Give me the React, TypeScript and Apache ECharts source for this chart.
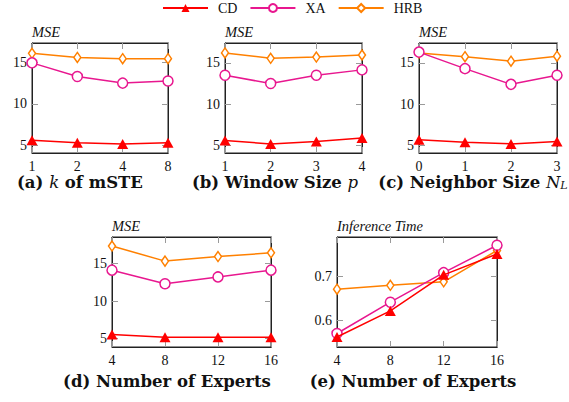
import React, { useEffect, useRef } from "react";
import * as echarts from "echarts";

const xA = ["1", "2", "4", "8"];
const xB = ["1", "2", "3", "4"];
const xC = ["0", "1", "2", "3"];
const xD = ["4", "8", "12", "16"];
const xE = ["4", "8", "12", "16"];

const cdA = [5.6, 5.3, 5.15, 5.3];
const xaA = [14.95, 13.3, 12.5, 12.75];
const hrbA = [16.1, 15.6, 15.45, 15.45];

const cdB = [5.6, 5.2, 5.5, 5.9];
const xaB = [13.5, 12.5, 13.5, 14.15];
const hrbB = [16.2, 15.55, 15.7, 15.95];

const cdC = [5.7, 5.4, 5.2, 5.5];
const xaC = [16.3, 14.3, 12.4, 13.5];
const hrbC = [16.2, 15.75, 15.2, 15.8];

const cdD = [5.55, 5.2, 5.2, 5.2];
const xaD = [14.1, 12.3, 13.2, 14.1];
const hrbD = [17.3, 15.3, 15.9, 16.4];

const cdE = [0.561, 0.621, 0.704, 0.752];
const xaE = [0.569, 0.641, 0.709, 0.772];
const hrbE = [0.671, 0.68, 0.688, 0.76];

const mseTicks = [5, 10, 15];
const timeTicks = [0.6, 0.7];

const RED = "#ff0000";
const MAG = "#e8178f";
const ORG = "#ff8000";
const TICK = "#9a9a9a";
const FONT = "Liberation Serif";
const CAPFONT = "DejaVu Serif";

export default function App() {
  const ref = useRef<HTMLDivElement>(null);
  useEffect(() => {
    if (!ref.current) return;
    const chart = echarts.init(ref.current, undefined, { renderer: "svg" });

    const panels = [
      { cats: xA, cd: cdA, xa: xaA, hrb: hrbA, grid: { left: 32, top: 43, width: 136, height: 110 }, min: 4.05, max: 17.35, ticks: mseTicks, name: "MSE" },
      { cats: xB, cd: cdB, xa: xaB, hrb: hrbB, grid: { left: 225, top: 43, width: 137, height: 110 }, min: 4.1, max: 17.4, ticks: mseTicks, name: "MSE" },
      { cats: xC, cd: cdC, xa: xaC, hrb: hrbC, grid: { left: 419, top: 43, width: 138, height: 110 }, min: 4.1, max: 17.4, ticks: mseTicks, name: "MSE" },
      { cats: xD, cd: cdD, xa: xaD, hrb: hrbD, grid: { left: 112, top: 237, width: 159, height: 110 }, min: 3.9, max: 18.5, ticks: mseTicks, name: "MSE" },
      { cats: xE, cd: cdE, xa: xaE, hrb: hrbE, grid: { left: 337, top: 237, width: 160, height: 110 }, min: 0.538, max: 0.791, ticks: timeTicks, name: "Inference Time" },
    ];

    const grid: any[] = [];
    const xAxis: any[] = [];
    const yAxis: any[] = [];
    const series: any[] = [];

    panels.forEach((p, i) => {
      grid.push({ ...p.grid, show: true, borderColor: "#222", borderWidth: 1, backgroundColor: "transparent" });
      const baseX = {
        type: "category",
        data: p.cats,
        gridIndex: i,
        boundaryGap: false,
        axisLine: { show: true, lineStyle: { color: "#222", width: 1 } },
        axisTick: { show: true, inside: true, length: 6, interval: 0, lineStyle: { color: TICK } },
        splitLine: { show: false },
      };
      xAxis.push({
        ...baseX,
        position: "bottom",
        axisLabel: { show: true, interval: 0, margin: 6, color: "#111", fontFamily: FONT, fontSize: 14 },
      });
      xAxis.push({ ...baseX, position: "top", axisLabel: { show: false } });
      const baseY = {
        type: "value",
        gridIndex: i,
        min: p.min,
        max: p.max,
        splitLine: { show: false },
        axisLine: { show: true, lineStyle: { color: "#222", width: 1 } },
        axisTick: { show: true, inside: true, length: 6, customValues: p.ticks, lineStyle: { color: TICK } },
      };
      yAxis.push({
        ...baseY,
        position: "left",
        name: p.name,
        nameLocation: "end",
        nameGap: 4,
        nameTextStyle: { align: "left", verticalAlign: "bottom", fontFamily: FONT, fontStyle: "italic", fontSize: 14.5, color: "#111" },
        axisLabel: { show: true, margin: 5, customValues: p.ticks, color: "#111", fontFamily: FONT, fontSize: 14 },
      });
      yAxis.push({ ...baseY, position: "right", axisLabel: { show: false } });

      const xi = i * 2;
      const yi = i * 2;
      series.push({
        name: "CD", type: "line", xAxisIndex: xi, yAxisIndex: yi, data: p.cd,
        symbol: "triangle", symbolSize: [11, 10],
        itemStyle: { color: RED }, lineStyle: { color: RED, width: 1.5 }, z: 4,
      });
      series.push({
        name: "XA", type: "line", xAxisIndex: xi, yAxisIndex: yi, data: p.xa,
        symbol: "circle", symbolSize: 10,
        itemStyle: { color: "#fff", borderColor: MAG, borderWidth: 1.5 }, lineStyle: { color: MAG, width: 1.5 }, z: 3,
      });
      series.push({
        name: "HRB", type: "line", xAxisIndex: xi, yAxisIndex: yi, data: p.hrb,
        symbol: "diamond", symbolSize: [7, 10],
        itemStyle: { color: "#fff", borderColor: ORG, borderWidth: 1.5 }, lineStyle: { color: ORG, width: 1.5 }, z: 2,
      });
    });

    const CS = 16.5;
    const cap = (text: string, x: number, y: number, rich: any = {}) => ({
      type: "text",
      x,
      y,
      style: {
        text,
        align: "center",
        verticalAlign: "middle",
        fontFamily: CAPFONT,
        fontWeight: "bold",
        fontSize: CS,
        fill: "#111",
        rich,
      },
    });
    const italicRich = {
      b: { fontFamily: CAPFONT, fontWeight: "bold", fontSize: CS, fill: "#111" },
      i: { fontFamily: CAPFONT, fontStyle: "italic", fontWeight: "normal", fontSize: CS, fill: "#111" },
      s: { fontFamily: CAPFONT, fontStyle: "italic", fontWeight: "normal", fontSize: 11, fill: "#111", verticalAlign: "bottom" },
    };

    chart.setOption({
      animation: false,
      textStyle: { fontFamily: FONT },
      legend: {
        top: 1,
        left: 162,
        padding: 0,
        itemWidth: 45,
        itemHeight: 10,
        itemGap: 12,
        data: ["CD", "XA", "HRB"],
        textStyle: { fontFamily: FONT, fontSize: 14, color: "#111", padding: [0, 0, 0, 5] },
      },
      grid,
      xAxis,
      yAxis,
      series,
      graphic: [
        cap("{b|(a) }{i|k}{b| of mSTE}", 80, 182, italicRich),
        cap("{b|(b) Window Size }{i|p}", 275, 182, italicRich),
        cap("{b|(c) Neighbor Size }{i|N}{s|L}", 473, 182, italicRich),
        cap("(d) Number of Experts", 167, 381),
        cap("(e) Number of Experts", 413, 381),
      ],
    });
    return () => chart.dispose();
  }, []);

  return (
    <div
      ref={ref}
      style={{ position: "absolute", left: 0, top: 0, width: 569, height: 402, background: "#fff" }}
    />
  );
}
